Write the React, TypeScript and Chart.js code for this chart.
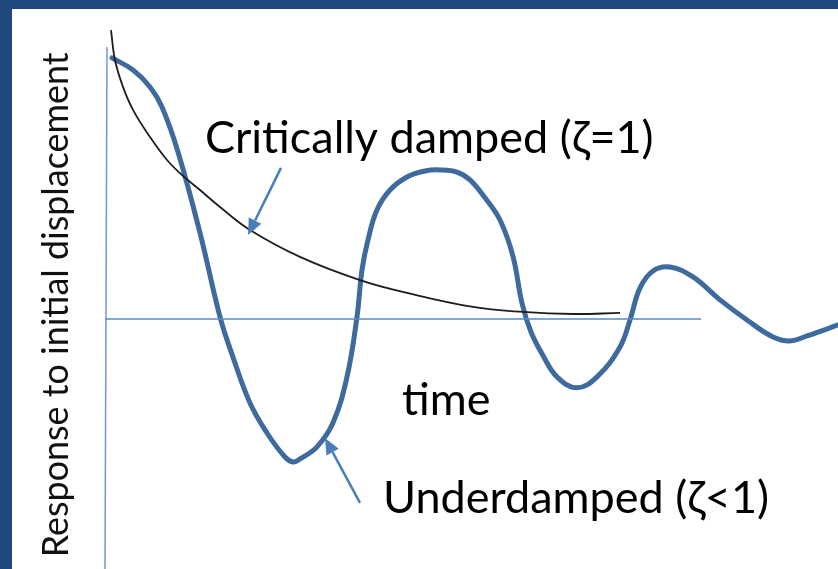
import React, { useEffect, useRef } from "react";
import { Chart, registerables } from "chart.js";

Chart.register(...registerables);

// Underdamped response (zeta < 1): time, response (normalised to initial displacement)
const underTime = [0.07, 0.28, 0.45, 0.57, 0.73, 0.95, 1.15, 1.28, 1.45, 1.62, 1.8, 1.88, 1.95, 2.12, 2.28, 2.42, 2.52, 2.57, 2.63, 2.72, 2.85, 3.02, 3.2, 3.35, 3.52, 3.65, 3.8, 3.95, 4.08, 4.17, 4.26, 4.38, 4.52, 4.72, 4.92, 5.15, 5.25, 5.35, 5.48, 5.65, 5.88, 6.15, 6.42, 6.68, 6.85, 7.02, 7.33];
const underResp = [1.0, 0.954, 0.889, 0.812, 0.64, 0.33, 0.008, -0.146, -0.322, -0.437, -0.529, -0.548, -0.536, -0.49, -0.398, -0.222, 0.008, 0.188, 0.303, 0.418, 0.494, 0.544, 0.567, 0.571, 0.563, 0.533, 0.464, 0.379, 0.24, 0.06, -0.05, -0.14, -0.222, -0.264, -0.222, -0.107, -0.004, 0.119, 0.184, 0.199, 0.161, 0.073, -0.004, -0.069, -0.084, -0.065, -0.023];

// Critically damped response (zeta = 1)
const critTime = [0.06, 0.1, 0.18, 0.28, 0.45, 0.62, 0.78, 0.95, 1.15, 1.45, 1.95, 2.55, 3.02, 3.68, 4.18, 4.68, 5.15];
const critResp = [1.107, 0.992, 0.889, 0.801, 0.697, 0.609, 0.548, 0.494, 0.429, 0.341, 0.238, 0.149, 0.1, 0.046, 0.027, 0.019, 0.023];

// Axis lines
const timeAxisTime = [0, 5.96];
const timeAxisResp = [0, 0];
const respAxisTime = [0.02, 0];
const respAxisResp = [1.042, -0.96];

// Annotation labels (left x in time units, baseline in response units)
const labelTexts = ["Critically damped (ζ=1)", "time", "Underdamped (ζ<1)"];
const labelTime = [1.0, 2.97, 2.78];
const labelResp = [0.636, -0.368, -0.743];
const labelWidths = [4.5, 0.88, 3.85];

// Y axis title
const yTitle = "Response to initial displacement";
const yTitleTime = -0.37;
const yTitleResp = 0.054;
const yTitleLength = 1.935;

// Arrows: [fromTime, fromResp, toTime, toResp]
const arrowFromTime = [1.76, 2.55];
const arrowFromResp = [0.579, -0.705];
const arrowToTime = [1.43, 2.2];
const arrowToResp = [0.322, -0.456];

const X_MIN = -1.05;
const X_MAX = 7.33;
const Y_MIN = -0.958;
const Y_MAX = 1.222;

const FONT = "Lato, 'Open Sans', sans-serif";

function fitSize(ctx: CanvasRenderingContext2D, text: string, target: number) {
  ctx.font = `100px ${FONT}`;
  const w = ctx.measureText(text).width;
  return (100 * target) / w;
}

const annotationPlugin = {
  id: "annotations",
  afterDatasetsDraw(chart: any) {
    const ctx: CanvasRenderingContext2D = chart.ctx;
    const xs = chart.scales.x;
    const ys = chart.scales.y;
    const pxPerT = xs.getPixelForValue(1) - xs.getPixelForValue(0);
    const pxPerR = ys.getPixelForValue(0) - ys.getPixelForValue(1);
    ctx.save();

    // arrows
    ctx.strokeStyle = "#4A7EBB";
    ctx.fillStyle = "#4A7EBB";
    ctx.lineWidth = 2.5;
    for (let i = 0; i < arrowFromTime.length; i++) {
      const x1 = xs.getPixelForValue(arrowFromTime[i]);
      const y1 = ys.getPixelForValue(arrowFromResp[i]);
      const x2 = xs.getPixelForValue(arrowToTime[i]);
      const y2 = ys.getPixelForValue(arrowToResp[i]);
      const ang = Math.atan2(y2 - y1, x2 - x1);
      const headLen = 16;
      const headW = 7;
      const bx = x2 - headLen * Math.cos(ang);
      const by = y2 - headLen * Math.sin(ang);
      ctx.beginPath();
      ctx.moveTo(x1, y1);
      ctx.lineTo(bx, by);
      ctx.stroke();
      ctx.beginPath();
      ctx.moveTo(x2, y2);
      ctx.lineTo(bx + headW * Math.sin(ang), by - headW * Math.cos(ang));
      ctx.lineTo(bx - headW * Math.sin(ang), by + headW * Math.cos(ang));
      ctx.closePath();
      ctx.fill();
    }

    // labels
    ctx.fillStyle = "#000000";
    ctx.textAlign = "left";
    ctx.textBaseline = "alphabetic";
    const s0 = fitSize(ctx, labelTexts[0], labelWidths[0] * pxPerT);
    const s2 = fitSize(ctx, labelTexts[2], labelWidths[2] * pxPerT);
    const size = (s0 + s2) / 2;
    ctx.font = `${size}px ${FONT}`;
    for (let i = 0; i < labelTexts.length; i++) {
      ctx.fillText(labelTexts[i], xs.getPixelForValue(labelTime[i]), ys.getPixelForValue(labelResp[i]));
    }

    // y title
    const ySize = fitSize(ctx, yTitle, yTitleLength * pxPerR);
    ctx.font = `${ySize}px ${FONT}`;
    ctx.translate(xs.getPixelForValue(yTitleTime), ys.getPixelForValue(yTitleResp));
    ctx.rotate(-Math.PI / 2);
    ctx.textAlign = "center";
    ctx.fillStyle = "#111111";
    ctx.fillText(yTitle, 0, 0);
    ctx.restore();
  },
};

function toPoints(t: number[], r: number[]) {
  return t.map((v, i) => ({ x: v, y: r[i] }));
}

export default function App() {
  const ref = useRef<HTMLCanvasElement>(null);
  useEffect(() => {
    if (!ref.current) return;
    const chart = new Chart(ref.current, {
      type: "scatter",
      data: {
        datasets: [
          {
            data: toPoints(timeAxisTime, timeAxisResp),
            showLine: true,
            borderColor: "#5A8AC6",
            borderWidth: 1.5,
            pointRadius: 0,
          },
          {
            data: toPoints(respAxisTime, respAxisResp),
            showLine: true,
            borderColor: "#6E9AD2",
            borderWidth: 1.5,
            pointRadius: 0,
          },
          {
            data: toPoints(critTime, critResp),
            showLine: true,
            borderColor: "#1E1E1E",
            borderWidth: 1.8,
            pointRadius: 0,
            tension: 0.4,
          },
          {
            data: toPoints(underTime, underResp),
            showLine: true,
            borderColor: "#3F6A9D",
            borderWidth: 5,
            pointRadius: 0,
            tension: 0.4,
            borderCapStyle: "round",
            borderJoinStyle: "round",
          },
        ],
      },
      options: {
        animation: false,
        responsive: false,
        layout: { padding: 0 },
        plugins: { legend: { display: false }, tooltip: { enabled: false } },
        scales: {
          x: { type: "linear", display: false, min: X_MIN, max: X_MAX },
          y: { type: "linear", display: false, min: Y_MIN, max: Y_MAX },
        },
      },
      plugins: [annotationPlugin],
    } as any);
    return () => chart.destroy();
  }, []);

  return (
    <div style={{ position: "absolute", left: 0, top: 0, width: 838, height: 569, background: "#ffffff", overflow: "hidden" }}>
      <div style={{ position: "absolute", left: 0, top: 0, width: 838, height: 9, background: "#1F497D" }} />
      <div style={{ position: "absolute", left: 0, top: 0, width: 12, height: 569, background: "#1F497D" }} />
      <canvas ref={ref} width={838} height={569} style={{ position: "absolute", left: 0, top: 0, width: 838, height: 569 }} />
    </div>
  );
}
